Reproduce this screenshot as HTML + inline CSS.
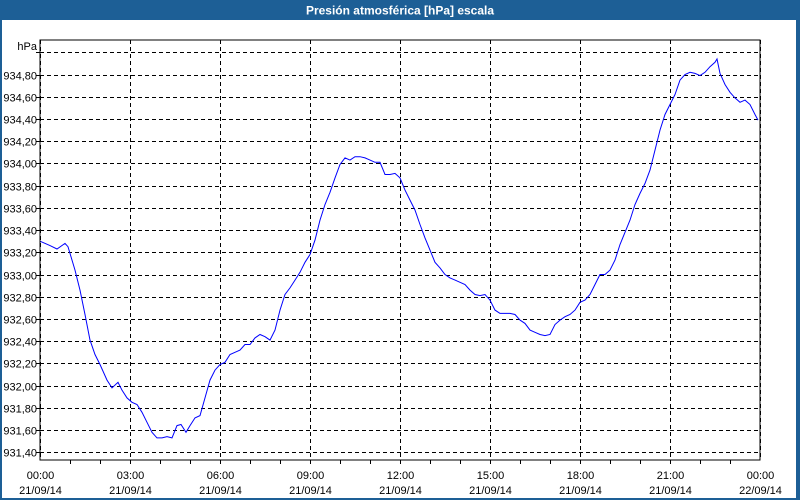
<!DOCTYPE html>
<html><head><meta charset="utf-8"><style>
html,body{margin:0;padding:0;background:#fff;}
#wrap{position:relative;width:800px;height:500px;overflow:hidden;background:#fff;font-family:"Liberation Sans","DejaVu Sans",sans-serif;}
</style></head><body>
<div id="wrap">
<svg id="chart" width="800" height="500" xmlns="http://www.w3.org/2000/svg">
  <rect x="0" y="0" width="800" height="20" fill="#1d5f96"/>
  <rect x="0" y="0" width="2" height="500" fill="#1d5f96"/>
  <rect x="796" y="0" width="4" height="500" fill="#1d5f96"/>
  <rect x="0" y="498" width="800" height="2" fill="#1d5f96"/>
  <text x="400" y="14.5" text-anchor="middle" fill="#fff" font-weight="bold" font-size="12">Presión atmosférica [hPa] escala</text>
  <text x="37" y="50" text-anchor="end" font-size="11" fill="#000">hPa</text>
  <g id="grid"></g>
  <g id="axes"></g>
  <g id="series"></g>
  <rect x="40" y="40" width="720" height="420" fill="none" stroke="#000" stroke-width="1"/>
</svg>
</div>
<script>
const yTicks = [935.0,934.8,934.6,934.4,934.2,934.0,933.8,933.6,933.4,933.2,933.0,932.8,932.6,932.4,932.2,932.0,931.8,931.6,931.4];
const yTickLabels = ["","934,80","934,60","934,40","934,20","934,00","933,80","933,60","933,40","933,20","933,00","932,80","932,60","932,40","932,20","932,00","931,80","931,60","931,40"];
const xTickHours = [0,3,6,9,12,15,18,21,24];
const xTickTimes = ["00:00","03:00","06:00","09:00","12:00","15:00","18:00","21:00","00:00"];
const xTickDates = ["21/09/14","21/09/14","21/09/14","21/09/14","21/09/14","21/09/14","21/09/14","21/09/14","22/09/14"];
const times = [0,20,34,50,56,70,80,90,100,110,120,134,144,156,164,174,184,194,204,214,224,234,244,254,264,274,282,292,300,310,
320,330,340,350,360,370,380,390,400,410,420,430,440,450,460,470,480,490,500,510,520,530,540,550,560,570,580,590,600,610,
620,630,640,650,660,670,680,690,700,710,720,730,740,750,760,770,780,790,800,810,820,830,840,850,860,870,880,890,900,910,
920,930,940,950,960,970,980,990,1000,1010,1020,1030,1040,1050,1060,1070,1080,1090,1100,1110,1120,1130,1140,1150,1160,1170,1180,1190,1200,1210,
1220,1230,1240,1250,1260,1270,1280,1290,1300,1310,1320,1330,1340,1350,1354,1360,1370,1380,1390,1400,1410,1420,1430,1436];
const pressure = [933.30,933.26,933.23,933.28,933.25,933.04,932.86,932.64,932.41,932.28,932.19,932.05,931.98,932.03,931.96,931.89,931.85,931.83,931.76,931.67,931.58,931.53,931.53,931.54,931.53,931.64,931.65,931.58,931.64,931.71,
931.73,931.89,932.05,932.14,932.19,932.21,932.28,932.30,932.32,932.37,932.37,932.43,932.46,932.44,932.41,932.50,932.68,932.82,932.88,932.95,933.02,933.11,933.18,933.31,933.49,933.63,933.74,933.87,933.99,934.05,
934.03,934.06,934.06,934.05,934.03,934.01,934.01,933.90,933.90,933.91,933.87,933.76,933.67,933.58,933.45,933.33,933.22,933.11,933.06,933.00,932.97,932.95,932.93,932.91,932.86,932.82,932.81,932.82,932.77,932.68,
932.65,932.65,932.65,932.64,932.59,932.56,932.50,932.48,932.46,932.45,932.46,932.55,932.59,932.62,932.64,932.68,932.75,932.77,932.82,932.91,933.00,933.00,933.04,933.13,933.27,933.38,933.49,933.63,933.73,933.82,
933.94,934.12,934.30,934.44,934.53,934.62,934.75,934.80,934.82,934.81,934.79,934.82,934.87,934.91,934.94,934.81,934.71,934.64,934.59,934.55,934.57,934.53,934.44,934.39];

const NS = "http://www.w3.org/2000/svg";
const X0 = 40, X1 = 760, YTOP = 52.3, YBOT = 452.3, VMAX = 935.0, VMIN = 931.4;
function xScale(min){ return X0 + (min/1440)*(X1-X0); }
function yScale(v){ return YTOP + (VMAX - v)/(VMAX-VMIN)*(YBOT-YTOP); }
function mk(tag, attrs, parent){ const e=document.createElementNS(NS,tag); for(const k in attrs) e.setAttribute(k,attrs[k]); parent.appendChild(e); return e; }

const grid = document.getElementById('grid');
const axes = document.getElementById('axes');
yTicks.forEach((v,i)=>{
  const y = Math.round(yScale(v))+0.5;
  const l = mk('line',{x1:X0,x2:X1,y1:y,y2:y,stroke:'#000','stroke-dasharray':'4,3','stroke-width':1},grid);
  
  
  const t = mk('line',{x1:X0-4,x2:X0,y1:y,y2:y,stroke:'#000'},axes);
  
  
  if (yTickLabels[i]) {
    const tx = mk('text',{x:37,y:y+4,'text-anchor':'end','font-size':11,fill:'#000'},axes);
    tx.textContent = yTickLabels[i];
    
    
  }
});
for (let h=1; h<24; h++){
  const x = Math.round(xScale(h*60))+0.5;
  const t = mk('line',{x1:x,x2:x,y1:460,y2:464,stroke:'#000'},axes);
  
  
}
xTickHours.forEach((h,i)=>{
  const x = Math.round(xScale(h*60))+0.5;
  const l = mk('line',{x1:x,x2:x,y1:40,y2:460,stroke:'#000','stroke-dasharray':'4,3'},grid);
  
  
  const t1 = mk('text',{x:x,y:479,'text-anchor':'middle','font-size':11,fill:'#000'},axes);
  t1.textContent = xTickTimes[i];
  
  
  const t2 = mk('text',{x:x,y:494,'text-anchor':'middle','font-size':11,fill:'#000'},axes);
  t2.textContent = xTickDates[i];
  
  
});
const pts = times.map((m,i)=> xScale(m).toFixed(1)+','+yScale(pressure[i]).toFixed(1)).join(' ');
const line = mk('polyline',{points:pts,fill:'none',stroke:'#0000ff','stroke-width':1},document.getElementById('series'));


</script>
</body></html>
